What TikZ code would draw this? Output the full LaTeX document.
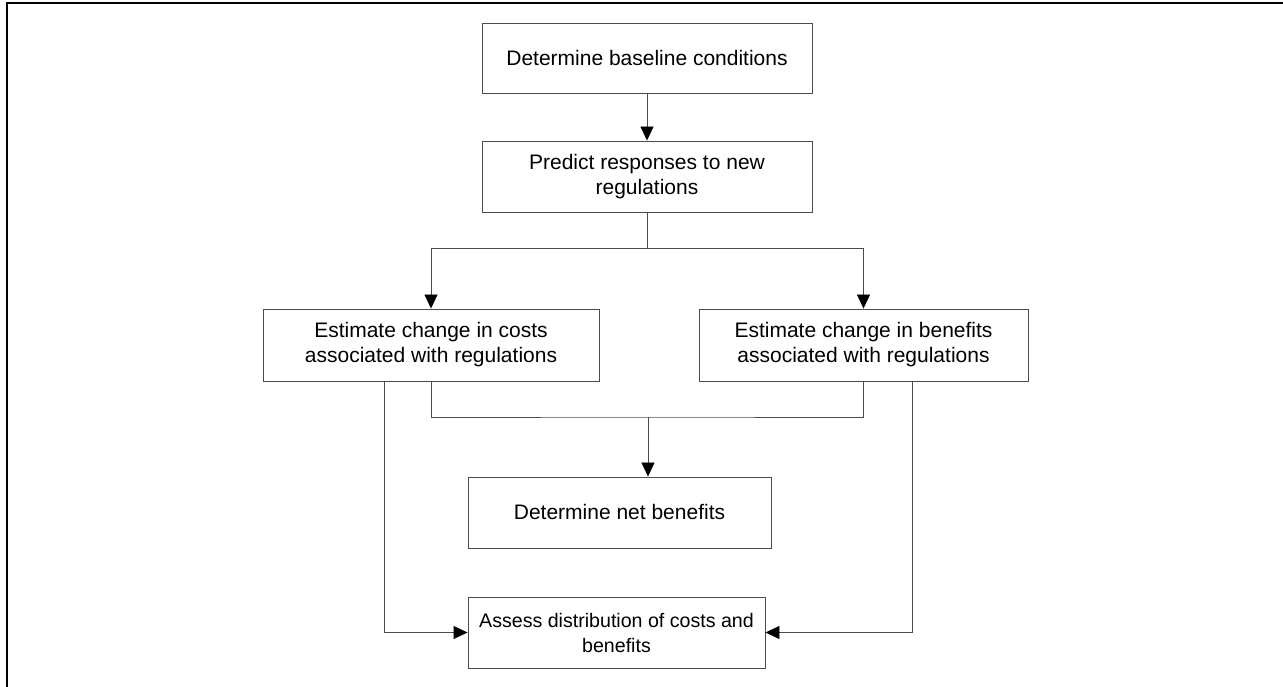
\documentclass[tikz,border=0pt]{standalone}
\usepackage{fontspec}
\setmainfont{Liberation Sans}
\usetikzlibrary{arrows.meta}
\begin{document}
\begin{tikzpicture}[x=1pt,y=1pt,
  box/.style={draw=black!70, line width=0.9pt, align=center, inner sep=0pt,
    font=\fontsize{21}{25}\selectfont},
  conn/.style={draw=black!70, line width=0.9pt},
  arr/.style={conn, -{Triangle[length=14pt,width=13pt,color=black]}}]
\useasboundingbox (0,0) rectangle (1283,687);
\draw[line width=2pt] (6.7,0) -- (6.7,684) -- (1283,684);

\node[box, minimum width=330, minimum height=70] (b1) at (647,629) {Determine baseline conditions};
\node[box, minimum width=330, minimum height=71] (b2) at (647,510.5) {Predict responses to new\\regulations};
\node[box, minimum width=336, minimum height=72] (bl) at (431,342) {Estimate change in costs\\associated with regulations};
\node[box, minimum width=329, minimum height=72] (br) at (863.5,342) {Estimate change in benefits\\associated with regulations};
\node[box, minimum width=303, minimum height=71] (net) at (619.5,174.5) {Determine net benefits};
\node[box, minimum width=297, minimum height=71, font=\fontsize{19.6}{25}\selectfont] (as) at (616.5,54.5) {Assess distribution of costs and\\benefits};

\coordinate (split) at (647,439);
\coordinate (merge) at (648,270);
\coordinate (sl) at (384,306);
\coordinate (sr) at (912,306);

\draw[arr] (b1.south) -- (b2.north);
\draw[conn] (b2.south) -- (split);
\draw[arr] (split) -| (bl.north);
\draw[arr] (split) -| (br.north);
\draw[conn] (bl.south) |- (merge) -| (br.south);
\draw[arr] (merge) -- (merge |- net.north);
\draw[arr] (sl) |- (as.west);
\draw[arr] (sr) |- (as.east);
\end{tikzpicture}
\end{document}
